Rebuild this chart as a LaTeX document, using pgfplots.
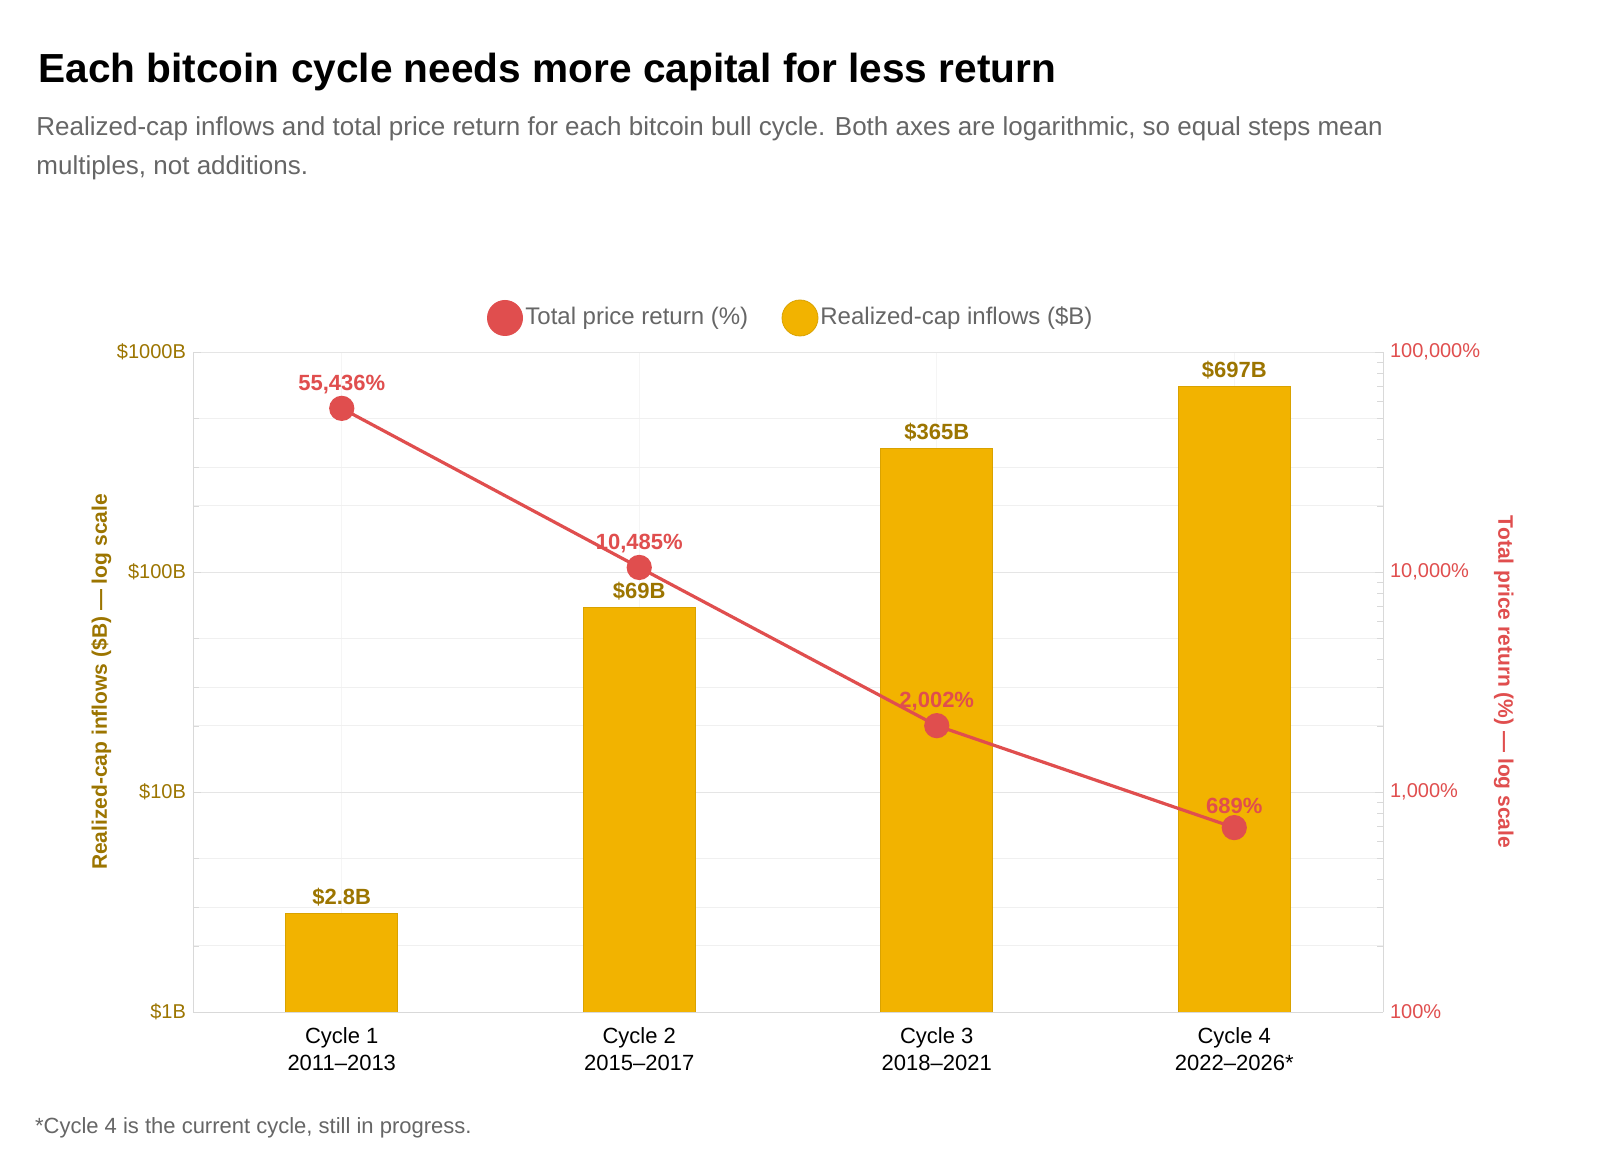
\documentclass[border=0pt]{standalone}
\usepackage{pgfplots}
\pgfplotsset{compat=1.18}
\usepackage{fontspec}
\setmainfont{Liberation Sans}
\definecolor{barfill}{HTML}{F2B300}
\definecolor{barline}{HTML}{D9A200}
\definecolor{gold}{HTML}{9C7500}
\definecolor{lred}{HTML}{E04E4E}
\definecolor{sub}{HTML}{666666}
\begin{document}
\begin{tikzpicture}[x=1pt,y=1pt]
\path[fill=white] (0,0) rectangle (805,578);
\node[anchor=base west,font=\bfseries\fontsize{20.3}{24}\selectfont,inner sep=0] at (19,536.5) {Each bitcoin cycle needs more capital for less return};
\node[anchor=north west,align=left,text=sub,font=\fontsize{13}{19.5}\selectfont,inner sep=0] at (18,520) {Realized-cap inflows and total price return for each bitcoin bull cycle. Both axes are logarithmic, so equal steps mean\\multiples, not additions.};
% legend
\fill[lred] (252.5,419) circle (9);
\node[anchor=west,text=sub,font=\fontsize{12}{14}\selectfont,inner sep=1] at (261.5,419) {Total price return (\%)};
\fill[barfill] (400,419) circle (9); \draw[barline] (400,419) circle (9);
\node[anchor=west,text=sub,font=\fontsize{12}{14}\selectfont,inner sep=1] at (409,419) {Realized-cap inflows (\$B)};
\begin{axis}[at={(96.5pt,72pt)},anchor=south west,scale only axis,width=595pt,height=330pt,
 ymode=log,ymin=1,ymax=1000,xmin=-0.5,xmax=3.5,
 xtick={0,1,2,3},xticklabels={{Cycle 1\\2011--2013},{Cycle 2\\2015--2017},{Cycle 3\\2018--2021},{Cycle 4\\2022--2026*}},
 xticklabel style={align=center,font=\fontsize{11}{13.5}\selectfont,yshift=-4pt},
 ytick={1,10,100,1000},yticklabels={\$1B,\$10B,\$100B,\$1000B},
 minor ytick={2,3,5,20,30,50,200,300,500},
 yticklabel style={text=gold,font=\fontsize{10}{12}\selectfont},
 ylabel={Realized-cap inflows (\$B) --- log scale},ylabel style={text=gold,font=\bfseries\fontsize{10.5}{12}\selectfont,yshift=-4pt},
 axis y line*=left,axis x line*=bottom,
 axis line style={draw=black!15},major tick length=4pt,tick style={draw=black!15},
 ymajorgrids,yminorgrids,major grid style={black!10},minor grid style={black!6},
 xmajorgrids,x grid style={black!4},
 bar width=56pt,
 nodes near coords style={text=gold,font=\bfseries\fontsize{11}{13}\selectfont},
]
\addplot[ybar,fill=barfill,draw=barline,nodes near coords={\$\pgfplotspointmeta B},point meta=explicit symbolic] coordinates {(0,2.8)[2.8] (1,69)[69] (2,365)[365] (3,697)[697]};
\end{axis}
\begin{axis}[at={(96.5pt,72pt)},anchor=south west,scale only axis,width=595pt,height=330pt,
 ymode=log,ymin=100,ymax=100000,xmin=-0.5,xmax=3.5,
 axis y line*=right,axis x line=none,
 axis line style={draw=black!15},tick style={draw=black!15},major tick length=4pt,
 ytick={100,1000,10000,100000},yticklabels={100\%,{1,000\%},{10,000\%},{100,000\%}},
 yticklabel style={text=lred,font=\fontsize{10}{12}\selectfont},
 ylabel={Total price return (\%) --- log scale},ylabel style={text=lred,font=\bfseries\fontsize{10.5}{12}\selectfont,rotate=180},
 nodes near coords style={text=lred,font=\bfseries\fontsize{11}{13}\selectfont,yshift=3pt},
]
\addplot[lred,line width=1.6pt,mark=*,mark size=5.5pt,mark options={fill=lred},nodes near coords,point meta=explicit symbolic] coordinates {(0,55436)[{55,436\%}] (1,10485)[{10,485\%}] (2,2002)[{2,002\%}] (3,689)[689\%]};
\end{axis}
\node[anchor=west,text=sub,font=\fontsize{11}{13}\selectfont] at (14,14) {*Cycle 4 is the current cycle, still in progress.};
\end{tikzpicture}
\end{document}
